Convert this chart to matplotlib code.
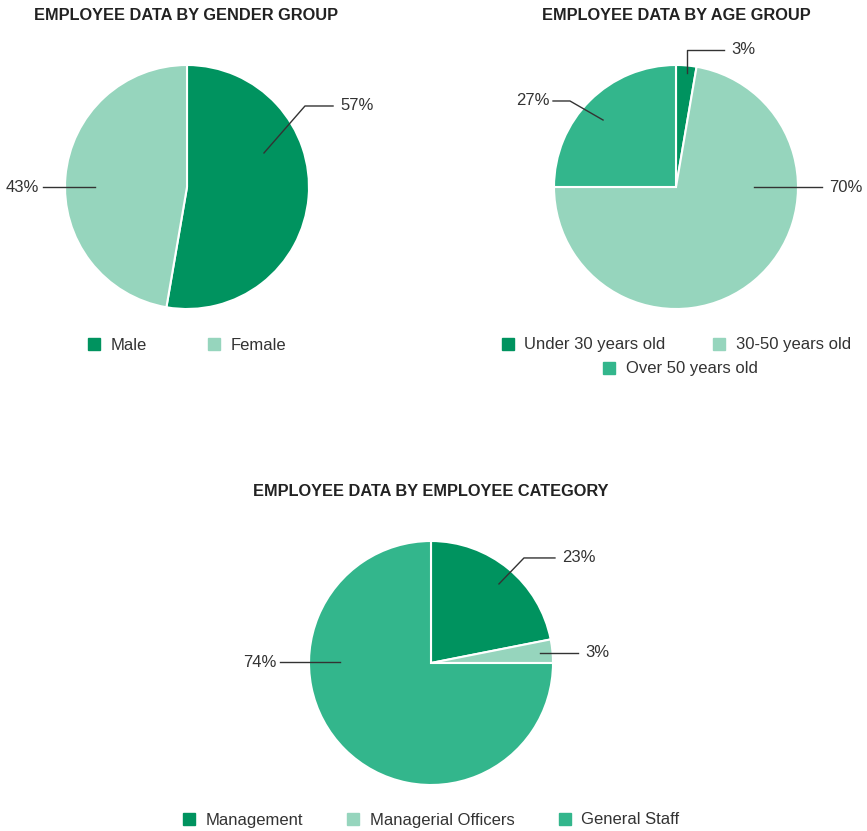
import matplotlib.pyplot as plt
from matplotlib.lines import Line2D

plt.rcParams['font.family'] = ['Liberation Sans', 'DejaVu Sans']

# slice sizes as drawn (the printed labels differ a bit from the drawn geometry)
gender_names = ["Male", "Female"]
gender_sizes = [52.7, 47.3]
gender_labels = ["57%", "43%"]

age_names = ["Under 30 years old", "30-50 years old", "Over 50 years old"]
age_sizes = [2.7, 72.3, 25.0]
age_labels = ["3%", "70%", "27%"]

cat_names = ["Management", "Managerial Officers", "General Staff"]
cat_sizes = [21.9, 3.1, 75.0]
cat_labels = ["23%", "3%", "74%"]

DARK = "#00935f"
LIGHT = "#96d5bd"
MID = "#33b68c"
TXT = "#333333"

W, H = 867, 831
fig = plt.figure(figsize=(W / 100, H / 100), dpi=100)
R = 122


def pie_ax(cx, cy):
    ax = fig.add_axes([(cx - R) / W, 1 - (cy + R) / H, 2 * R / W, 2 * R / H])
    ax.set_xlim(-1, 1)
    ax.set_ylim(-1, 1)
    ax.axis("off")
    return ax


def leader(ax, pts, text, ha):
    xs = [p[0] for p in pts]
    ys = [p[1] for p in pts]
    ax.plot(xs, ys, color=TXT, lw=1, clip_on=False)
    dx = 0.06 if ha == "left" else -0.03
    ax.text(xs[-1] + dx, ys[-1], text, ha=ha, va="center", fontsize=12,
            color=TXT, clip_on=False)


def draw_pie(ax, sizes, colors):
    ax.pie(sizes, colors=colors, startangle=90, counterclock=False, radius=1,
           wedgeprops=dict(edgecolor="white", linewidth=1.5))
    ax.set_xlim(-1, 1)
    ax.set_ylim(-1, 1)
    ax.set_aspect("auto")


def legend_row(names, colors, cx, cy, spacing):
    handles = [Line2D([], [], marker="s", ls="", markersize=9, color=c) for c in colors]
    fig.legend(handles, names, loc="center", bbox_to_anchor=(cx / W, 1 - cy / H),
               ncol=len(names), frameon=False, fontsize=12, handlelength=0.8,
               handletextpad=0.6, columnspacing=spacing, labelcolor=TXT,
               borderaxespad=0, borderpad=0)


def title(text, cx, cy):
    fig.text(cx / W, 1 - cy / H, text, ha="center", va="center", fontsize=11.8,
             fontweight="bold", color="#222222")


# gender
ax1 = pie_ax(187, 187)
draw_pie(ax1, gender_sizes, [DARK, LIGHT])
leader(ax1, [(0.631, 0.279), (0.967, 0.664), (1.197, 0.664)], gender_labels[0], "left")
leader(ax1, [(-0.754, 0.0), (-1.18, 0.0)], gender_labels[1], "right")
title("EMPLOYEE DATA BY GENDER GROUP", 186, 16)
legend_row(gender_names, [DARK, LIGHT], 187, 345, 3.6)

# age
ax2 = pie_ax(676, 187)
draw_pie(ax2, age_sizes, [DARK, LIGHT, MID])
leader(ax2, [(0.09, 0.934), (0.09, 1.123), (0.393, 1.123)], age_labels[0], "left")
leader(ax2, [(0.639, 0.0), (1.197, 0.0)], age_labels[1], "left")
leader(ax2, [(-0.598, 0.549), (-0.869, 0.705), (-1.008, 0.705)], age_labels[2], "right")
title("EMPLOYEE DATA BY AGE GROUP", 676, 16)
legend_row(age_names[:2], [DARK, LIGHT], 676, 345, 2.8)
legend_row(age_names[2:], [MID], 680, 369, 2.8)

# category
ax3 = pie_ax(431, 663)
draw_pie(ax3, cat_sizes, [DARK, LIGHT, MID])
leader(ax3, [(0.557, 0.648), (0.762, 0.861), (1.016, 0.861)], cat_labels[0], "left")
leader(ax3, [(0.893, 0.082), (1.205, 0.082)], cat_labels[1], "left")
leader(ax3, [(-0.746, 0.008), (-1.238, 0.008)], cat_labels[2], "right")
title("EMPLOYEE DATA BY EMPLOYEE CATEGORY", 431, 491)
legend_row(cat_names, [DARK, LIGHT, MID], 431, 820, 2.6)

fig.savefig("out.png", dpi=100, facecolor="white")
